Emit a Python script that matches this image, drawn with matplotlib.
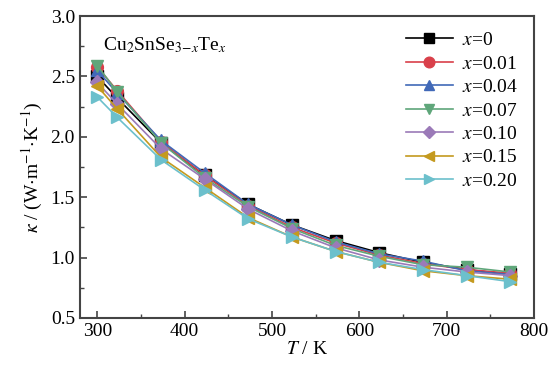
import matplotlib
matplotlib.use("Agg")
import matplotlib.pyplot as plt
from matplotlib.ticker import MultipleLocator

plt.rcParams['font.family'] = ['Liberation Serif', 'DejaVu Serif']
plt.rcParams['mathtext.fontset'] = 'stix'

T = [300, 323, 373, 423, 473, 523, 573, 623, 673, 723, 773]

labels = ['0', '0.01', '0.04', '0.07', '0.10', '0.15', '0.20']
kappa = [
    [2.50, 2.32, 1.95, 1.68, 1.44, 1.27, 1.14, 1.04, 0.96, 0.90, 0.86],
    [2.58, 2.38, 1.96, 1.68, 1.43, 1.25, 1.12, 1.02, 0.95, 0.90, 0.87],
    [2.55, 2.36, 1.97, 1.70, 1.44, 1.27, 1.13, 1.03, 0.97, 0.89, 0.86],
    [2.59, 2.37, 1.95, 1.66, 1.42, 1.24, 1.10, 1.01, 0.94, 0.92, 0.88],
    [2.45, 2.27, 1.90, 1.65, 1.40, 1.22, 1.08, 0.98, 0.92, 0.88, 0.85],
    [2.42, 2.23, 1.83, 1.58, 1.33, 1.17, 1.05, 0.96, 0.89, 0.85, 0.82],
    [2.33, 2.16, 1.81, 1.56, 1.32, 1.17, 1.05, 0.96, 0.90, 0.85, 0.80],
]
colors = ['#000000', '#d9404a', '#4169b8', '#5fa67a', '#9b7ab8', '#c49a1f', '#6cc0cc']
markers = ['s', 'o', '^', 'v', 'D', '<', '>']

fig = plt.figure(figsize=(5.58, 3.74), dpi=100)
ax = fig.add_axes([0.143, 0.150, 0.814, 0.807])

for lab, k, c, m in zip(labels, kappa, colors, markers):
    ms = 7 if m == 'D' else 8.5
    ax.plot(T, k, color=c, marker=m, markersize=ms, linewidth=1.2,
            label=r'$x$=' + lab)

ax.set_xlim(280, 800)
ax.set_ylim(0.5, 3.0)
ax.xaxis.set_major_locator(MultipleLocator(100))
ax.xaxis.set_minor_locator(MultipleLocator(50))
ax.yaxis.set_major_locator(MultipleLocator(0.5))
ax.yaxis.set_minor_locator(MultipleLocator(0.25))
ax.tick_params(which='both', direction='in', top=False, right=False,
               labelsize=14, color='#444444')
ax.tick_params(which='major', length=5, width=1.2)
ax.tick_params(which='minor', length=3, width=1.0)
for s in ax.spines.values():
    s.set_linewidth(1.5)
    s.set_color('#444444')

ax.set_xlabel(r'$T$ / K', fontsize=14, labelpad=1)
ax.set_ylabel(r'$\kappa$ / (W$\cdot$m$^{-1}$$\cdot$K$^{-1}$)', fontsize=14, labelpad=4)

ax.text(0.05, 0.885, r'Cu$_2$SnSe$_{3\!-\!x}$Te$_x$', transform=ax.transAxes,
        fontsize=14)

leg = ax.legend(loc='upper right', frameon=False, fontsize=14, handlelength=2.4,
                handletextpad=0.5, labelspacing=0.3, borderaxespad=0.4,
                markerscale=0.9)

fig.savefig('out.png', dpi=100)
